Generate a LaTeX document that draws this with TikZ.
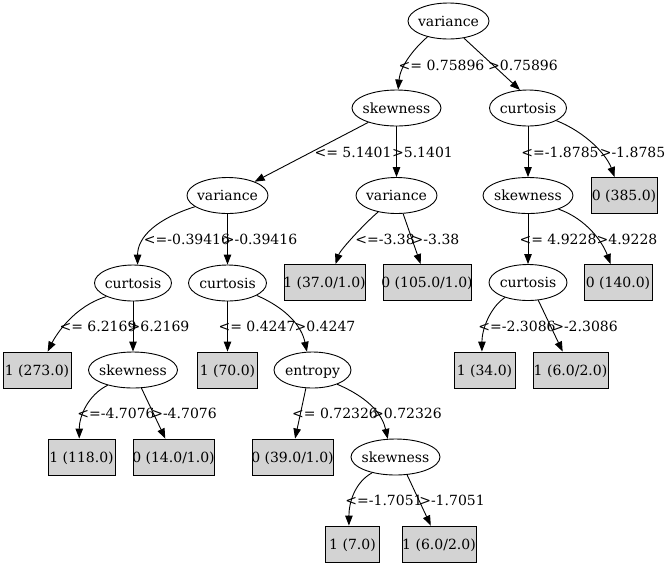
\documentclass[tikz,border=0pt]{standalone}
\usepackage{fontspec}
\setmainfont{DejaVu Serif}
\usetikzlibrary{shapes.geometric,arrows.meta}
\definecolor{leafgray}{HTML}{D3D3D3}
% centre a label without letting its width grow the shape
\newcommand\ctr[1]{\makebox[0pt][c]{#1}}
\begin{document}
\begin{tikzpicture}[x=1pt,y=-1pt,
  every node/.style={font=\fontsize{14}{17}\selectfont, text height=13pt, text depth=3pt, inner sep=0pt},
  split/.style={draw, ellipse, line width=0.9pt, minimum height=36pt},
  leaf/.style={draw, fill=leafgray, line width=0.9pt, minimum height=36pt},
  cond/.style={},
  link/.style={line width=0.9pt, -{Triangle[length=10pt,width=7.5pt]}}]
\useasboundingbox (0,0) rectangle (666,566);

% ---- decision nodes and leaves ----
\node[split, minimum width=81pt] (v0)  at (448.5,21)  {\ctr{variance}};
\node[split, minimum width=89pt] (s1)  at (396.5,108) {\ctr{skewness}};
\node[split, minimum width=77pt] (c1)  at (528,108)   {\ctr{curtosis}};
\node[split, minimum width=81pt] (v2a) at (227.5,195.5) {\ctr{variance}};
\node[split, minimum width=81pt] (v2b) at (396.5,195.5) {\ctr{variance}};
\node[split, minimum width=90pt] (s2)  at (528,195.5) {\ctr{skewness}};
\node[leaf,  minimum width=66pt] (b385) at (624,195.5) {\ctr{0 (385.0)}};
\node[split, minimum width=77pt] (c3a) at (133,283)   {\ctr{curtosis}};
\node[split, minimum width=78pt] (c3b) at (227.5,283) {\ctr{curtosis}};
\node[leaf,  minimum width=81pt] (b37)  at (324.5,282.5) {\ctr{1 (37.0/1.0)}};
\node[leaf,  minimum width=88pt] (b105) at (427,282.5)  {\ctr{0 (105.0/1.0)}};
\node[split, minimum width=78pt] (c3c) at (528,282.5) {\ctr{curtosis}};
\node[leaf,  minimum width=68pt] (b140) at (618,282.5)  {\ctr{0 (140.0)}};
\node[leaf,  minimum width=68pt] (b273) at (37,370)    {\ctr{1 (273.0)}};
\node[split, minimum width=89pt] (s4a) at (133,370)   {\ctr{skewness}};
\node[leaf,  minimum width=60pt] (b70)  at (227.5,370) {\ctr{1 (70.0)}};
\node[split, minimum width=77pt] (e4)  at (312.5,370) {\ctr{entropy}};
\node[leaf,  minimum width=61pt] (b34)  at (484.5,370) {\ctr{1 (34.0)}};
\node[leaf,  minimum width=75pt] (b62a) at (570.5,370) {\ctr{1 (6.0/2.0)}};
\node[leaf,  minimum width=67pt] (b118) at (81.5,457)  {\ctr{1 (118.0)}};
\node[leaf,  minimum width=81pt] (b14)  at (173.5,457) {\ctr{0 (14.0/1.0)}};
\node[leaf,  minimum width=81pt] (b39)  at (292.5,457) {\ctr{0 (39.0/1.0)}};
\node[split, minimum width=89pt] (s5)  at (395.5,457) {\ctr{skewness}};
\node[leaf,  minimum width=54pt] (b7)   at (352.5,544) {\ctr{1 (7.0)}};
\node[leaf,  minimum width=74pt] (b62b) at (439,544)   {\ctr{1 (6.0/2.0)}};

% ---- branches ----
\draw[link] (v0.217) .. controls +(-16,14) and +(2,-22) .. (s1.85);
\draw[link] (v0.312) -- (c1.114);
\draw[link] (s1.207) -- (v2a.27);
\draw[link] (s1) -- (v2b);
\draw[link] (c1) -- (s2);
\draw[link] (c1.336) .. controls +(30,12) and +(-8,-22) .. (b385.117);
\draw[link] (v2a.199) .. controls +(-38,12) and +(0,-28) .. (c3a.76);
\draw[link] (v2a) -- (c3b);
\draw[link] (v2b.222) .. controls +(-10,8) and +(5,-15) .. (b37.59);
\draw[link] (v2b.-70) -- (b105.109);
\draw[link] (s2) -- (c3c);
\draw[link] (s2.336) .. controls +(28,10) and +(-8,-22) .. (b140.112);
\draw[link] (c3a.207) .. controls +(-33,10) and +(8,-16) .. (b273.60);
\draw[link] (c3a) -- (s4a);
\draw[link] (c3b) -- (b70);
\draw[link] (c3b.337) .. controls +(32,14) and +(-5,-24) .. (e4.107);
\draw[link] (c3c.213) .. controls +(-15,10) and +(0,-22) .. (b34.98);
\draw[link] (c3c.-60) -- (b62a.113);
\draw[link] (s4a.211) .. controls +(-20,10) and +(0,-22) .. (b118.97);
\draw[link] (s4a.-65) -- (b14.114);
\draw[link] (e4.250) -- (b39.82);
\draw[link] (e4.330) .. controls +(35,15) and +(-5,-22) .. (s5.113);
\draw[link] (s5.214) .. controls +(-18,10) and +(0,-22) .. (b7.101);
\draw[link] (s5.-57) -- (b62b.114);

% ---- split conditions ----
\node[cond] (t1) at (441.5,65) {<= 0.75896};
\node[cond] (f1) at (523,65)   {>0.75896};
\node[cond] (t2) at (353,152)  {<= 5.1401};
\node[cond] (f2) at (422.5,152) {>5.1401};
\node[cond] (t3) at (560,152)  {<=-1.8785};
\node[cond] (f3) at (632.5,152) {>-1.8785};
\node[cond] (t4) at (187,239)  {<=-0.39416};
\node[cond] (f4) at (260,239)  {>-0.39416};
\node[cond] (t5) at (385,239)  {<=-3.38};
\node[cond] (f5) at (435.5,239) {>-3.38};
\node[cond] (t6) at (558,239)  {<= 4.9228};
\node[cond] (f6) at (627,239)  {>4.9228};
\node[cond] (t7) at (98,326)   {<= 6.2169};
\node[cond] (f7) at (159,326)  {>6.2169};
\node[cond] (t8) at (257,326)  {<= 0.4247};
\node[cond] (f8) at (325,326)  {>0.4247};
\node[cond] (t9) at (517,326)  {<=-2.3086};
\node[cond] (f9) at (585,326)  {>-2.3086};
\node[cond] (t10) at (116,413) {<=-4.7076};
\node[cond] (f10) at (184,413) {>-4.7076};
\node[cond] (t11) at (335,413) {<= 0.72326};
\node[cond] (f11) at (407,413) {>0.72326};
\node[cond] (t12) at (384,500) {<=-1.7051};
\node[cond] (f12) at (452,500) {>-1.7051};
\end{tikzpicture}
\end{document}
